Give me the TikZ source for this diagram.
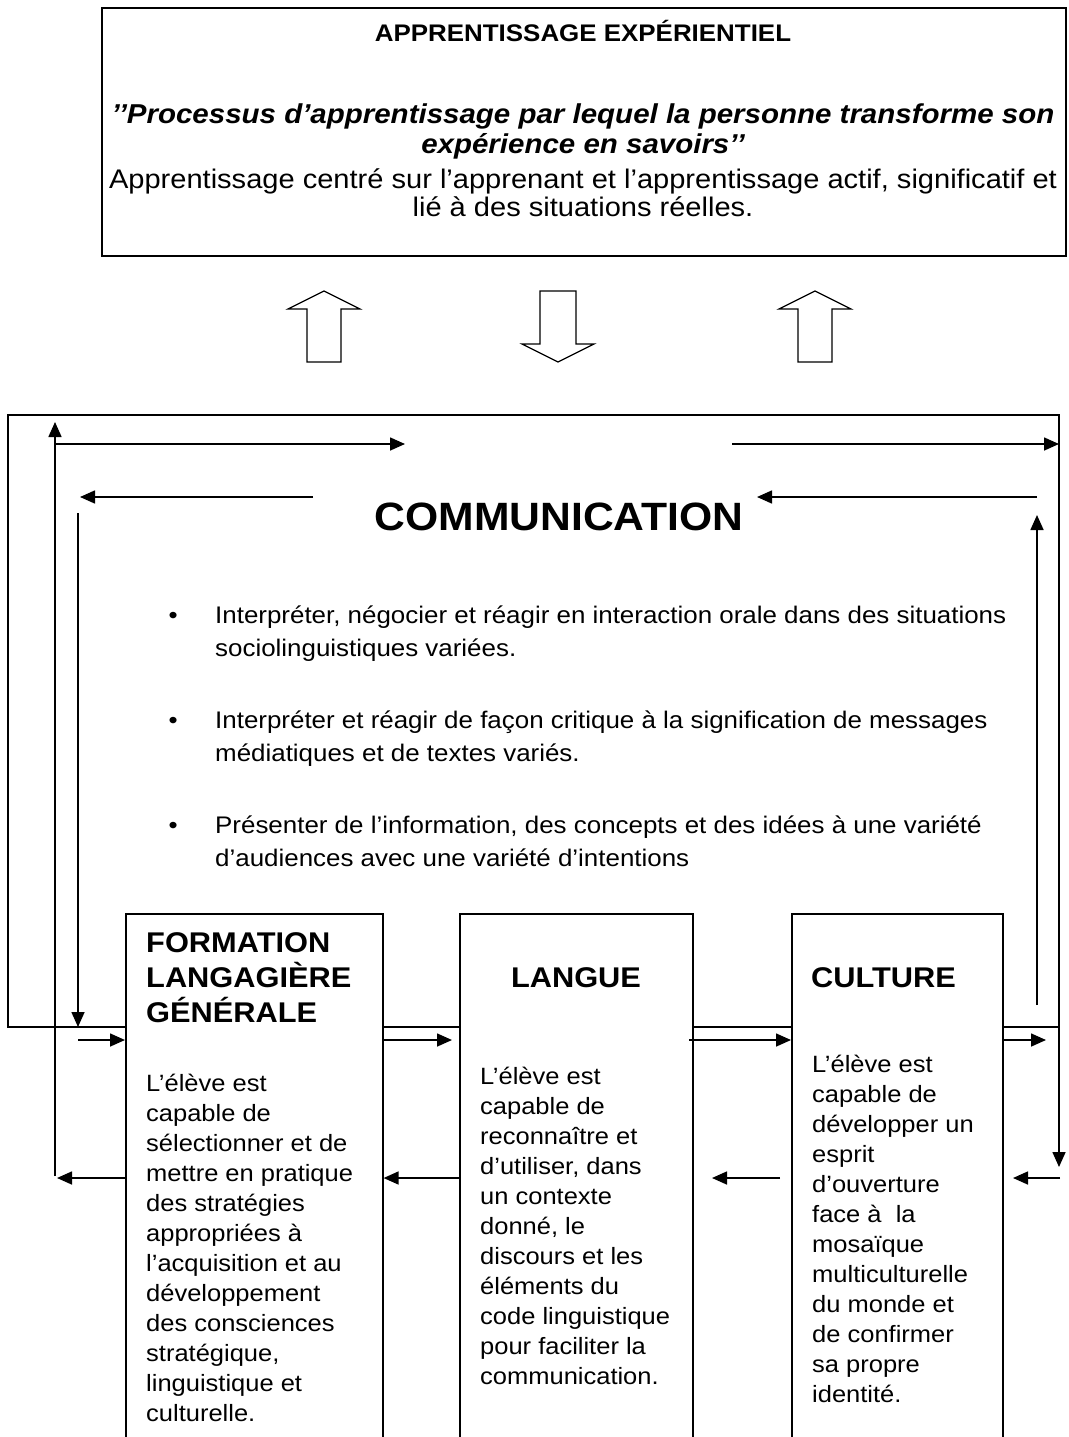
\documentclass[tikz,border=0pt]{standalone}
\usepackage{fontspec}
\setmainfont{Liberation Sans}[FakeStretch=1.08]
\usetikzlibrary{positioning, arrows.meta, calc}
\setlength{\lineskiplimit}{-\maxdimen}
\newcommand{\hstrut}{\rule{0pt}{0.7\baselineskip}}

\begin{document}
\begin{tikzpicture}[
    x=1pt, y=-1pt,
    trait/.style={line width=1.6pt},
    fleche/.style={-{Triangle[length=15pt, width=13pt]}, line width=1.6pt},
    bloc/.style={rectangle, draw, line width=1.6pt, anchor=north west, inner sep=0pt, minimum height=560pt},
    titre/.style={anchor=north west, inner sep=0pt, align=left, font=\fontsize{28.5}{35}\selectfont\bfseries},
    texte/.style={anchor=north west, inner sep=0pt, align=left, font=\fontsize{23.6}{30}\selectfont},
    puce/.style={anchor=north west, inner sep=0pt, align=left, font=\fontsize{24}{33}\selectfont},
    bouton/.style={line width=1.2pt, line join=miter}
]
\useasboundingbox (0,0) rectangle (1068,1437);
\clip (0,0) rectangle (1068,1437);

% Apprentissage experientiel (top box)
\node[draw, line width=1.6pt, anchor=north west, inner sep=0pt, minimum width=964pt, minimum height=248pt] (haut) at (101,7) {};
\node[font=\fontsize{24}{30}\selectfont\bfseries, anchor=base] (titreHaut) at (583,42) {APPRENTISSAGE EXPÉRIENTIEL};
\node[texte, align=center, anchor=north, font=\fontsize{27.3}{30}\selectfont\bfseries\itshape] (citation) at (583,102)
    {\hstrut ’’Processus d’apprentissage par lequel la personne transforme son\\expérience en savoirs’’};
\node[texte, align=center, anchor=north, font=\fontsize{26.9}{28}\selectfont] (resume) at (583,168.4)
    {\hstrut Apprentissage centré sur l’apprenant et l’apprentissage actif, significatif et\\lié à des situations réelles.};

% Block arrows
\foreach \x in {324,815} {
    \draw[bouton] (\x-17,362) -- (\x-17,309) -- (\x-36,309) -- (\x,291) -- (\x+36,309) -- (\x+17,309) -- (\x+17,362) -- cycle;
}
\draw[bouton] (540,291) -- (576,291) -- (576,344) -- (594,344) -- (558,362) -- (522,344) -- (540,344) -- cycle;

% Communication
\node[font=\fontsize{39.5}{50}\selectfont\bfseries, anchor=base] (comm) at (559,530) {COMMUNICATION};
\node[puce] (p1) at (215,600) {\hstrut\llap{\textbullet\hspace{37.5pt}}Interpréter, négocier et réagir en interaction orale dans des situations\\sociolinguistiques variées.};
\node[puce] (p2) at (215,705) {\hstrut\llap{\textbullet\hspace{37.5pt}}Interpréter et réagir de façon critique à la signification de messages\\médiatiques et de textes variés.};
\node[puce] (p3) at (215,810) {\hstrut\llap{\textbullet\hspace{37.5pt}}Présenter de l’information, des concepts et des idées à une variété\\d’audiences avec une variété d’intentions};

% Three components
\node[bloc, minimum width=257pt] (flg) at (125,913) {};
\node[bloc, minimum width=233pt] (langue) at (459,913) {};
\node[bloc, minimum width=211pt] (culture) at (791,913) {};

\node[titre] (flgT) at (146,927.5) {\hstrut FORMATION\\LANGAGIÈRE\\GÉNÉRALE};
\node[titre, anchor=north] (langueT) at (576,962.5) {\hstrut LANGUE};
\node[titre] (cultureT) at (811,962.5) {\hstrut CULTURE};

\node[texte] (flgB) at (146,1070) {\hstrut L’élève est\\capable de\\sélectionner et de\\mettre en pratique\\des stratégies\\appropriées à\\l’acquisition et au\\développement\\des consciences\\stratégique,\\linguistique et\\culturelle.};
\node[texte] (langueB) at (480,1063) {\hstrut L’élève est\\capable de\\reconnaître et\\d’utiliser, dans\\un contexte\\donné, le\\discours et les\\éléments du\\code linguistique\\pour faciliter la\\communication.};
\node[texte] (cultureB) at (812,1051) {\hstrut L’élève est\\capable de\\développer un\\esprit\\d’ouverture\\face à~ la\\mosaïque\\multiculturelle\\du monde et\\de confirmer\\sa propre\\identité.};

% Levels of the connectors
\coordinate (ligneH) at (0,1027);
\coordinate (ligneA) at (0,1040);
\coordinate (ligneR) at (0,1178);

% Frame
\draw[fleche] (flg.west |- ligneH) -- (8,1027) -- (8,415) -- (1059,415) -- (1059,1167);
\draw[trait] (flg.east |- ligneH) -- (langue.west |- ligneH)
             (langue.east |- ligneH) -- (culture.west |- ligneH)
             (culture.east |- ligneH) -- (1059,1027);

% Outer loop
\coordinate (gBas) at (55,1176);
\coordinate (gHaut) at (55,444);
\draw[fleche] (flg.west |- ligneR) -- (57,1178);
\draw[fleche] (gBas) -- (55,422);
\draw[fleche] (gHaut) -- (405,444);
\draw[fleche] (732,444) -- (1059,444);

% Inner loop
\coordinate (dBas) at (1037,1005);
\coordinate (dHaut) at (1037,497);
\coordinate (gInt) at (78,513);
\draw[fleche] (dBas) -- (1037,515);
\draw[fleche] (dHaut) -- (757,497);
\draw[fleche] (313,497) -- (80,497);
\draw[fleche] (gInt) -- (78,1027);
\draw[fleche] (78,1040) -- (flg.west |- ligneA);

% Forward arrows
\draw[fleche] (flg.east |- ligneA) -- (452,1040);
\draw[fleche] (689,1040) -- (culture.west |- ligneA);
\draw[fleche] (culture.east |- ligneA) -- (1046,1040);

% Return arrows
\draw[fleche] (langue.west |- ligneR) -- (flg.east |- ligneR);
\draw[fleche] (780,1178) -- (712,1178);
\draw[fleche] (1060,1178) -- (1013,1178);

\end{tikzpicture}
\end{document}
